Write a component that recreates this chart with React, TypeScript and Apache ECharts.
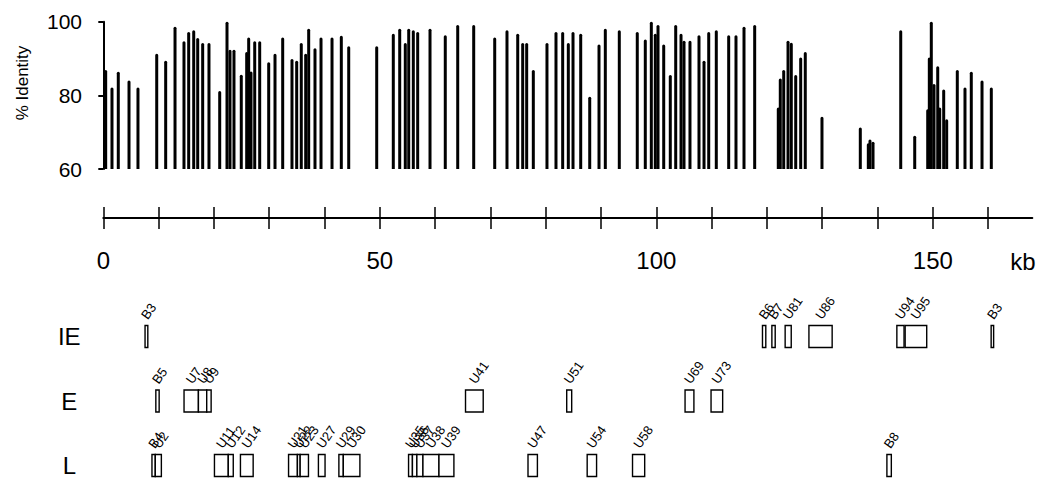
import React, { useEffect, useRef } from "react";
import * as echarts from "echarts";

const FONT = "'Liberation Sans', Arial, Helvetica, sans-serif";

// Top panel: position (kb) and % identity of each aligned segment
const barKb = [
  0.43, 1.57, 2.71, 4.65, 6.27, 9.66, 11.28, 12.97, 14.59, 15.44, 16.35, 17.07, 17.97, 19.11,
  21.05, 22.37, 22.91, 23.63, 24.95, 25.93, 26.29, 26.71, 27.38, 28.28, 29.91, 31.05, 32.44,
  34.12, 34.97, 35.8, 36.6, 37.14, 38.28, 39.37, 41.36, 43.04, 44.38, 49.44,
  52.44, 53.6, 54.61, 55.23, 56.06, 56.85, 59.08, 61.84, 64.09, 66.98, 70.78, 73.0, 74.94,
  75.84, 76.56, 77.76, 80.23, 81.86, 83.07, 84.09, 84.94, 86.33, 87.96, 89.64, 90.78, 93.31,
  96.56, 98.01, 99.1, 99.82, 100.31, 101.34, 102.53, 103.51, 104.47, 105.01, 106.09, 107.72,
  108.63, 109.48, 110.85, 113.09, 114.41, 115.86, 117.79,
  122.06, 122.42, 123.04, 123.82, 124.41, 125.21, 126.11, 126.94, 129.96, 136.89, 138.34,
  138.64, 139.19, 144.2, 146.73, 149.08, 149.37, 149.73, 150.22, 150.89, 151.25, 151.97,
  152.51, 154.43, 155.82, 156.96, 158.9, 160.58,
];
const identity = [
  86.9, 82.1, 86.4, 84.0, 82.1, 91.3, 89.4, 98.6, 94.7, 97.2, 97.7, 95.6, 94.2, 94.2,
  81.2, 100, 92.4, 92.4, 85.6, 91.8, 95.7, 86.5, 94.7, 94.7, 89.0, 91.3, 95.7,
  89.9, 89.4, 94.2, 91.3, 98.1, 92.8, 95.7, 95.7, 96.2, 93.3, 93.3,
  96.7, 98.1, 94.2, 98.1, 97.7, 97.2, 98.1, 96.3, 99.1, 99.1, 95.7, 97.7, 96.7,
  94.2, 94.2, 86.9, 94.2, 97.2, 97.2, 94.2, 97.2, 96.7, 79.6, 93.8, 98.1, 97.7,
  97.2, 95.2, 100, 96.7, 99.1, 93.8, 85.5, 99.1, 96.7, 94.8, 94.8, 96.3,
  89.4, 97.2, 97.7, 96.3, 96.3, 98.6, 99.1,
  76.7, 84.6, 86.9, 94.8, 94.3, 85.5, 90.3, 91.8, 74.2, 71.3, 67.0,
  68.0, 67.4, 97.7, 69.0, 76.2, 90.3, 100, 83.1, 87.9, 76.7, 81.6,
  73.5, 86.9, 82.1, 86.4, 84.0, 82.1,
];

const identityTicks = [60, 80, 100];
const kbTicks = [0, 10, 20, 30, 40, 50, 60, 70, 80, 90, 100, 110, 120, 130, 140, 150, 160];
const kbLabels = [0, 50, 100, 150];
const rowNames = ["L", "E", "IE"];

// Bottom panel: genes (start kb, end kb, kinetic class)
const geneNames = [
  "B3", "B6", "B7", "U81", "U86", "U94", "U95", "B3",
  "B5", "U7", "U8", "U9", "U41", "U51", "U69", "U73",
  "B4", "U2", "U11", "U12", "U14", "U21", "U22", "U23", "U27", "U29", "U30",
  "U35", "U36", "U37", "U38", "U39", "U47", "U54", "U58", "B8",
];
const geneStart = [
  7.55, 119.2, 120.9, 123.3, 127.6, 143.5, 145.0, 160.55,
  9.5, 14.6, 17.2, 18.7, 65.5, 83.8, 105.2, 109.9,
  8.8, 9.4, 20.1, 22.6, 24.8, 33.5, 35.1, 35.6, 38.9, 42.6, 43.4,
  55.2, 55.9, 56.7, 57.8, 60.7, 76.8, 87.5, 95.7, 141.7,
];
const geneEnd = [
  8.05, 119.8, 121.5, 124.4, 131.8, 144.8, 148.9, 161.0,
  10.1, 17.2, 18.7, 19.5, 68.7, 84.7, 106.8, 112.0,
  9.4, 10.5, 22.6, 23.5, 27.1, 35.1, 35.6, 37.1, 40.1, 43.4, 46.4,
  55.9, 56.7, 57.8, 60.7, 63.4, 78.5, 89.2, 97.9, 142.5,
];
const geneClass = [
  "IE", "IE", "IE", "IE", "IE", "IE", "IE", "IE",
  "E", "E", "E", "E", "E", "E", "E", "E",
  "L", "L", "L", "L", "L", "L", "L", "L", "L", "L", "L",
  "L", "L", "L", "L", "L", "L", "L", "L", "L",
];

const PX_PER_KB = 5.53;
const X0 = 103.3;
const ROW_PX = 64.5;
const BOX_H = 22;
const LABEL_ROT = (55 * Math.PI) / 180;

export default function App() {
  const ref = useRef<HTMLDivElement>(null);

  useEffect(() => {
    if (!ref.current) return;
    const chart = echarts.init(ref.current, null, { renderer: "svg" });

    const barData = barKb.map((k, i) => [k, identity[i]]);
    const geneData = geneNames.map((_, i) => [
      geneStart[i],
      geneEnd[i],
      rowNames.indexOf(geneClass[i]),
    ]);

    const topMin = -3.3 / PX_PER_KB;
    const topMax = 166;
    const kbMax = 168;

    const geneTop = 304.25;
    const geneHeight = 478 - geneTop;
    const rowMax = rowNames.length - 0.5;
    const rowMin = rowMax - geneHeight / ROW_PX;

    const staticGraphics: any[] = [
      {
        type: "text",
        x: 22,
        y: 83,
        rotation: Math.PI / 2,
        style: {
          text: "% Identity",
          fill: "#000",
          fontSize: 17,
          fontFamily: FONT,
          align: "center",
          verticalAlign: "middle",
        },
      },
      {
        type: "text",
        x: 1023,
        y: 261.5,
        style: {
          text: "kb",
          fill: "#000",
          fontSize: 24,
          fontFamily: FONT,
          align: "center",
          verticalAlign: "middle",
        },
      },
    ];

    const option: any = {
      animation: false,
      backgroundColor: "#fff",
      grid: [
        { left: 100, top: 21.7, width: (topMax - topMin) * PX_PER_KB, height: 147.3 },
        { left: X0, top: 200, width: kbMax * PX_PER_KB, height: 18 },
        { left: X0, top: geneTop, width: kbMax * PX_PER_KB, height: geneHeight },
      ],
      xAxis: [
        { gridIndex: 0, type: "value", min: topMin, max: topMax, show: false },
        {
          gridIndex: 1,
          type: "value",
          min: 0,
          max: kbMax,
          position: "bottom",
          axisLine: { show: true, onZero: false, lineStyle: { color: "#000", width: 2 } },
          axisTick: { show: true, customValues: kbTicks, length: 11, lineStyle: { color: "#000", width: 1.5 } },
          axisLabel: { show: true, customValues: kbLabels, fontSize: 24, fontFamily: FONT, color: "#000", margin: 30 },
          splitLine: { show: false },
        },
        {
          gridIndex: 1,
          type: "value",
          min: 0,
          max: kbMax,
          position: "bottom",
          axisLine: { show: false, onZero: false },
          axisTick: { show: true, inside: true, customValues: kbTicks, length: 11, lineStyle: { color: "#000", width: 1.5 } },
          axisLabel: { show: false },
          splitLine: { show: false },
        },
        { gridIndex: 2, type: "value", min: 0, max: kbMax, show: false },
      ],
      yAxis: [
        {
          gridIndex: 0,
          type: "value",
          min: identityTicks[0],
          max: identityTicks[identityTicks.length - 1],
          interval: 20,
          axisLine: { show: true, lineStyle: { color: "#000", width: 2 } },
          axisTick: { show: true, length: 5, lineStyle: { color: "#000", width: 2 } },
          axisLabel: { fontSize: 21, fontFamily: FONT, color: "#000", margin: 18 },
          splitLine: { show: false },
        },
        { gridIndex: 1, type: "value", show: false },
        {
          gridIndex: 2,
          type: "value",
          min: rowMin,
          max: rowMax,
          axisLine: { show: false },
          axisTick: { show: false },
          axisLabel: {
            customValues: [0, 1, 2],
            formatter: (v: number) => rowNames[Math.round(v)] ?? "",
            fontSize: 24,
            fontFamily: FONT,
            color: "#000",
            align: "center",
            margin: 34,
            padding: [8, 0, 0, 0],
          },
          splitLine: { show: false },
        },
      ],
      series: [
        {
          type: "custom",
          xAxisIndex: 0,
          yAxisIndex: 0,
          data: barData,
          encode: { x: 0, y: 1 },
          renderItem: (params: any, api: any) => {
            const x = api.value(0);
            const v = api.value(1);
            const top = api.coord([x, v]);
            const base = api.coord([x, identityTicks[0]]);
            return {
              type: "rect",
              shape: { x: top[0] - 1.5, y: top[1], width: 3, height: base[1] - top[1], r: [1.5, 1.5, 0, 0] },
              style: { fill: "#000" },
            };
          },
        },
        {
          type: "custom",
          xAxisIndex: 3,
          yAxisIndex: 2,
          data: geneData,
          encode: { x: [0, 1], y: 2 },
          clip: false,
          renderItem: (params: any, api: any) => {
            const s = api.value(0);
            const e = api.value(1);
            const row = api.value(2);
            const p0 = api.coord([s, row]);
            const p1 = api.coord([e, row]);
            const w = Math.max(p1[0] - p0[0], 2);
            const top = p0[1] - BOX_H / 2;
            return {
              type: "rect",
              shape: { x: p0[0], y: top, width: w, height: BOX_H },
              style: { fill: "#fff", stroke: "#000", lineWidth: 1.4 },
            };
          },
        },
      ],
      graphic: staticGraphics,
    };

    chart.setOption(option);

    // Rotated gene labels, placed through the gene grid's own scales
    const labelGraphics = geneNames.map((name, i) => {
      const row = rowNames.indexOf(geneClass[i]);
      const pa = chart.convertToPixel({ gridIndex: 2 }, [geneStart[i], row]) as number[];
      const pb = chart.convertToPixel({ gridIndex: 2 }, [geneEnd[i], row]) as number[];
      const w = Math.max(pb[0] - pa[0], 2);
      const cx = pa[0] + w / 2;
      const top = pa[1] - BOX_H / 2;
      return {
        type: "text",
        x: cx + 3,
        y: top - 4,
        rotation: LABEL_ROT,
        style: {
          text: name,
          fill: "#000",
          fontSize: 13,
          fontFamily: FONT,
          align: "left",
          verticalAlign: "bottom",
        },
      };
    });
    chart.setOption({ graphic: [...staticGraphics, ...labelGraphics] });

    return () => chart.dispose();
  }, []);

  return (
    <div
      ref={ref}
      style={{ position: "absolute", left: 0, top: 0, width: 1040, height: 478 }}
    />
  );
}
